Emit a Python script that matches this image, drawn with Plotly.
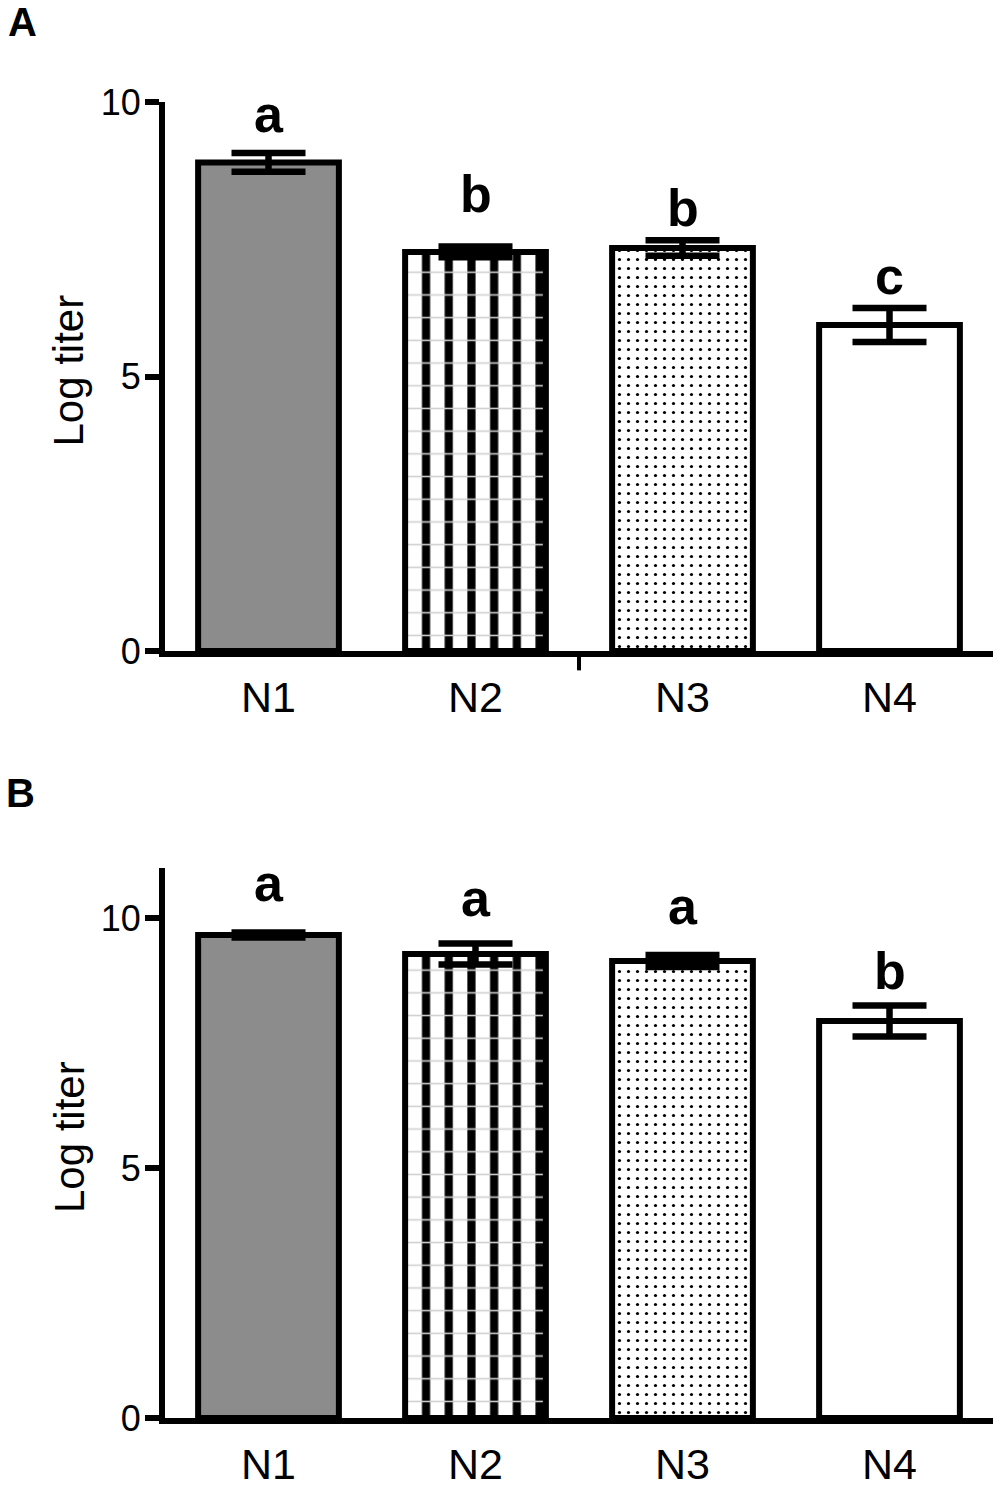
import plotly.graph_objects as go

categories = ["N1", "N2", "N3", "N4"]

# Panel A
values_a = [8.90, 7.27, 7.34, 5.94]
errors_a = [0.17, 0.10, 0.14, 0.31]
letters_a = ["a", "b", "b", "c"]
letter_y_a = [9.79, 8.32, 8.07, 6.83]

# Panel B
values_b = [9.66, 9.28, 9.14, 7.94]
errors_b = [0.05, 0.21, 0.12, 0.31]
letters_b = ["a", "a", "a", "b"]
letter_y_b = [10.70, 10.40, 10.24, 8.94]

y_ticks = [0, 5, 10]

FONT = "Arial, Liberation Sans, sans-serif"
W, H = 1000, 1490
XDOM = [0.165, 0.993]
YDOM_A = [1 - 651 / H, 1 - 102 / H]
YDOM_B = [1 - 1418 / H, 1 - 868 / H]
BAR_W = 0.68

fill_colors = ["#8c8c8c", "white", "white", "white"]

fig = go.Figure()


def add_panel(values, errors, xa, ya):
    # base solid fill
    fig.add_trace(go.Bar(
        x=categories, y=values, width=BAR_W, xaxis=xa, yaxis=ya,
        marker=dict(color=fill_colors, line=dict(width=0)),
        showlegend=False, hoverinfo="skip"))
    # vertical stripes on N2
    fig.add_trace(go.Bar(
        x=[categories[1]], y=[values[1]], width=BAR_W, xaxis=xa, yaxis=ya,
        marker=dict(color="white", line=dict(width=0),
                    pattern=dict(shape="|", size=22.7, solidity=0.36,
                                 fgcolor="black", bgcolor="white",
                                 fillmode="replace")),
        showlegend=False, hoverinfo="skip"))
    # faint horizontal lines over striped bar
    fig.add_trace(go.Bar(
        x=[categories[1]], y=[values[1]], width=BAR_W, xaxis=xa, yaxis=ya,
        marker=dict(color="rgba(0,0,0,0)", line=dict(width=0),
                    pattern=dict(shape="-", size=22.7, solidity=0.07,
                                 fgcolor="#cfcfcf", bgcolor="rgba(0,0,0,0)",
                                 fillmode="replace")),
        showlegend=False, hoverinfo="skip"))
    # dots on N3
    fig.add_trace(go.Bar(
        x=[categories[2]], y=[values[2]], width=BAR_W, xaxis=xa, yaxis=ya,
        marker=dict(color="white", line=dict(width=0),
                    pattern=dict(shape=".", size=9, solidity=0.1,
                                 fgcolor="black", bgcolor="white",
                                 fillmode="replace")),
        showlegend=False, hoverinfo="skip"))
    # outline + error bars
    fig.add_trace(go.Bar(
        x=categories, y=values, width=BAR_W, xaxis=xa, yaxis=ya,
        marker=dict(color="rgba(0,0,0,0)", line=dict(width=6, color="black")),
        error_y=dict(type="data", array=errors, visible=True,
                     thickness=6.5, width=37, color="black"),
        showlegend=False, hoverinfo="skip"))


add_panel(values_a, errors_a, "x", "y")
add_panel(values_b, errors_b, "x2", "y2")

annotations = []
for cat, lt, ly in zip(categories, letters_a, letter_y_a):
    annotations.append(dict(x=cat, y=ly, xref="x", yref="y", text=lt,
                            showarrow=False, yanchor="middle",
                            font=dict(family=FONT, size=52, color="black", weight="bold")))
for cat, lt, ly in zip(categories, letters_b, letter_y_b):
    annotations.append(dict(x=cat, y=ly, xref="x2", yref="y2", text=lt,
                            showarrow=False, yanchor="middle",
                            font=dict(family=FONT, size=52, color="black", weight="bold")))

# panel letters
annotations.append(dict(x=0.022, y=1 - 22 / H, xref="paper", yref="paper", text="<b>A</b>",
                        showarrow=False, xanchor="center", yanchor="middle",
                        font=dict(family=FONT, size=40, color="black")))
annotations.append(dict(x=0.020, y=1 - 793 / H, xref="paper", yref="paper", text="<b>B</b>",
                        showarrow=False, xanchor="center", yanchor="middle",
                        font=dict(family=FONT, size=40, color="black")))

# y-axis titles
for dom in (YDOM_A, YDOM_B):
    annotations.append(dict(x=0.069, y=(dom[0] + dom[1]) / 2 + 0.004, xref="paper", yref="paper",
                            text="Log titer", textangle=-90, showarrow=False,
                            xanchor="center", yanchor="middle",
                            font=dict(family=FONT, size=42, color="black")))

# stray tick between N2 and N3 in panel A
xmid = XDOM[0] + (1.5 + 0.5) / 4 * (XDOM[1] - XDOM[0])
shapes = [dict(type="line", xref="paper", yref="paper", x0=xmid, x1=xmid,
               y0=YDOM_A[0] - 0.002, y1=YDOM_A[0] - 0.013,
               line=dict(color="black", width=4))]

xaxis_common = dict(range=[-0.5, 3.5], showline=True, linewidth=6, linecolor="black",
                    ticks="", showgrid=False, zeroline=False, automargin=False,
                    tickfont=dict(family=FONT, size=43, color="black"),
                    ticklabelstandoff=3, fixedrange=True)
yaxis_common = dict(showline=True, linewidth=6, linecolor="black",
                    ticks="outside", ticklen=14, tickwidth=6, tickcolor="black",
                    tickvals=y_ticks, showgrid=False, zeroline=False, automargin=False,
                    tickfont=dict(family=FONT, size=36, color="black"),
                    ticklabelstandoff=-3, fixedrange=True)

fig.update_layout(
    width=W, height=H,
    margin=dict(l=0, r=0, t=0, b=0, autoexpand=False),
    paper_bgcolor="white", plot_bgcolor="white",
    barmode="overlay",
    xaxis=dict(domain=XDOM, anchor="y", **xaxis_common),
    yaxis=dict(domain=YDOM_A, anchor="x", range=[0, 10], **yaxis_common),
    xaxis2=dict(domain=XDOM, anchor="y2", **xaxis_common),
    yaxis2=dict(domain=YDOM_B, anchor="x2", range=[0, 11], **yaxis_common),
    annotations=annotations,
    shapes=shapes,
)

fig.write_html("out.html", config={"displayModeBar": False},
               post_script="document.body.style.margin='0';")
